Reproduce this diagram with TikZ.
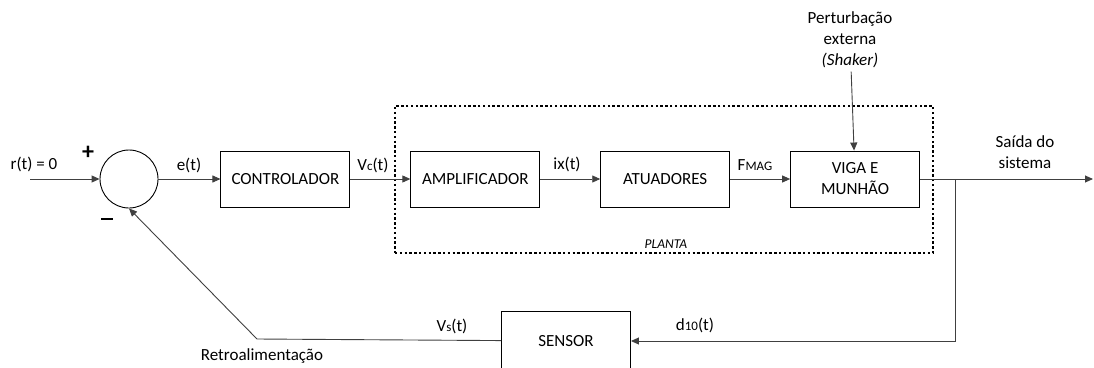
\documentclass[tikz,border=0pt]{standalone}
\usepackage{fontspec}
\setmainfont{Carlito}
\usetikzlibrary{arrows.meta,positioning}
\newcommand{\sml}[1]{{\fontsize{13}{14}\selectfont #1}}

\begin{document}
\begin{tikzpicture}[x=1pt,y=-1pt,
  node distance=60pt,
  every node/.style={font=\fontsize{17}{21}\selectfont,align=center},
  block/.style={draw,line width=0.9pt,minimum width=129pt,minimum height=56pt,inner sep=0pt},
  sumnode/.style={draw,circle,line width=0.9pt,minimum size=58pt,inner sep=0pt},
  planta/.style={draw,line width=2.4pt,dash pattern=on 2.4pt off 2.4pt,
    minimum width=538pt,minimum height=147pt,inner sep=0pt},
  sign/.style={font=\bfseries\fontsize{24}{24}\selectfont},
  arrow/.style={-{Triangle[length=8pt,width=7pt]},line width=0.9pt,draw=black!75}
]
  \useasboundingbox (0,0) rectangle (1094,367);
  \clip (0,0) rectangle (1094,367);

  \node[planta] (plant) at (664,179.5) {};
  \node[sumnode] (sum) at (129,179) {};
  \node[block,right=62pt of sum] (ctrl) {CONTROLADOR};
  \node[block,right=of ctrl] (amp) {AMPLIFICADOR};
  \node[block,right=of amp] (atu) {ATUADORES};
  \node[block,right=of atu] (viga) {VIGA E\\MUNHÃO};
  \node[block,minimum height=60pt] (sensor) at (566,341) {SENSOR};

  \coordinate (in) at (30,179);
  \coordinate (out) at (1093,179);
  \coordinate (branch) at (955,179);
  \coordinate (fb) at (257,339);

  % labels
  \node (dist) at (850,40) {Perturbação\\externa\\\textit{(Shaker)}};
  \node (rlab) at (34,164) {r(t) = 0};
  \node[sign] (plus) at (88,153) {+};
  \node (minus) at (107,219) {\rule{12pt}{2.2pt}};
  \node (elab) at (189,165) {e(t)};
  \node (vclab) at (373,165) {V\sml{c}(t)};
  \node (ixlab) at (567,164) {ix(t)};
  \node (fmag) at (755,165) {F\sml{MAG}};
  \node (vslab) at (452,326) {V\sml{s}(t)};
  \node (dlab) at (695,325) {d\sml{10}(t)};
  \node (retro) at (262,356) {Retroalimentação};
  \node (saida) at (1025,152) {Saída do\\sistema};
  \node[font=\itshape\fontsize{13.5}{16}\selectfont] (plab) at (666,244) {PLANTA};

  \draw[arrow] (in) -- (sum);
  \draw[arrow] (sum) -- (ctrl);
  \draw[arrow] (ctrl) -- (amp);
  \draw[arrow] (amp) -- (atu);
  \draw[arrow] (atu) -- (viga);
  \draw[arrow] (viga) -- (out);
  \draw[arrow] (dist) -- (viga);
  \draw[arrow] (branch) |- (sensor);
  \draw[arrow] (sensor) -- (fb) -- (sum.south);
\end{tikzpicture}
\end{document}
